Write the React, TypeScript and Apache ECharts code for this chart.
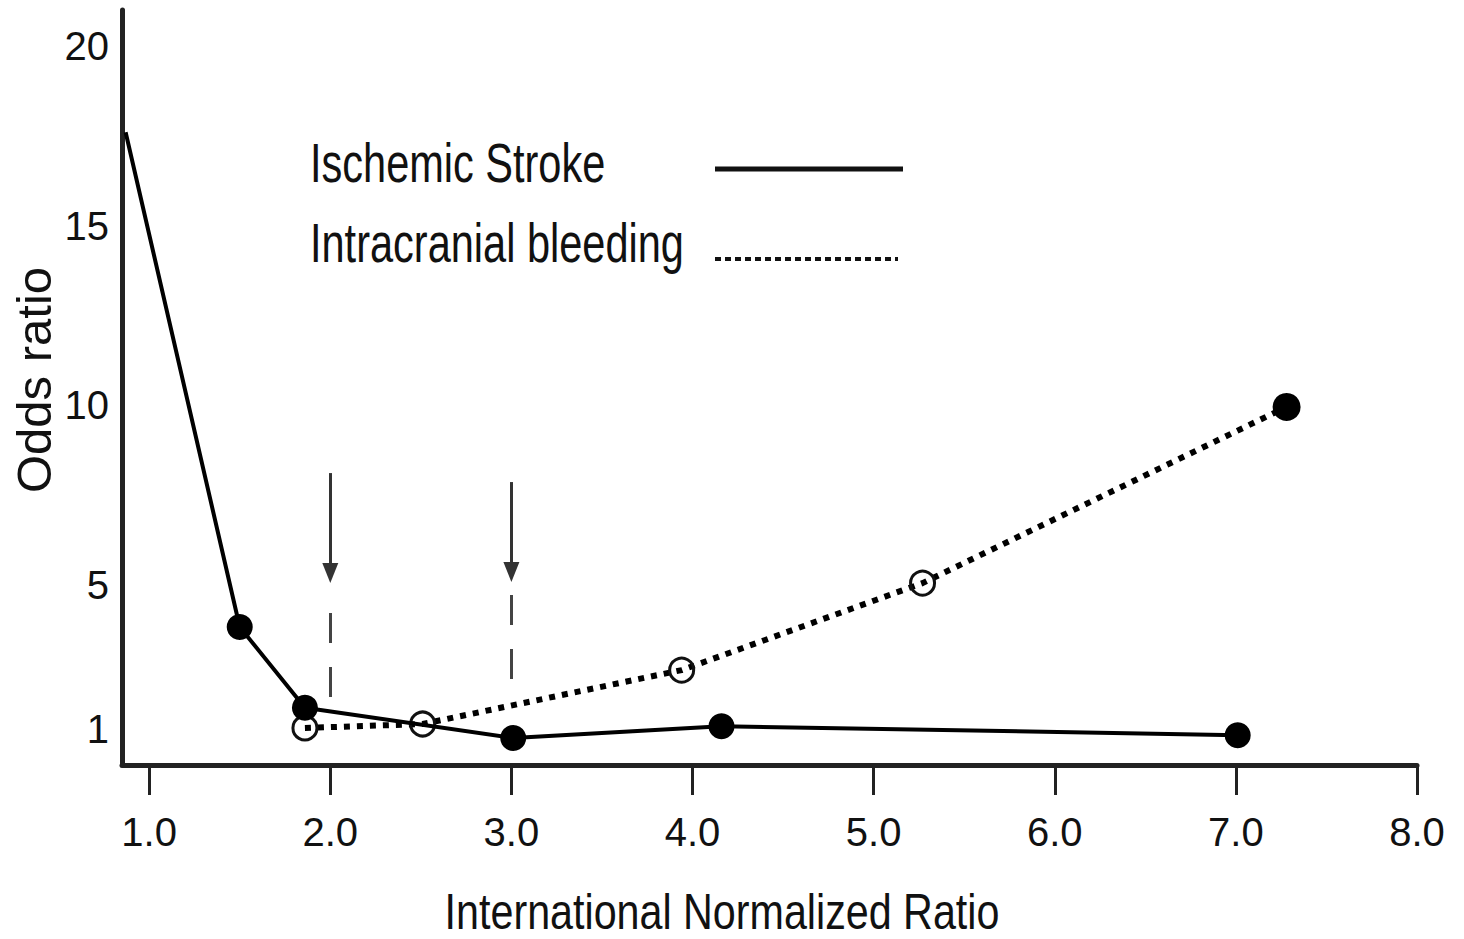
import React, { useEffect, useRef } from "react";
import * as echarts from "echarts";

// ---- data ----
const strokeINR = [0.87, 1.5, 1.86, 3.01, 4.16, 7.01];
const strokeOR = [17.6, 3.84, 1.59, 0.75, 1.08, 0.83];

const bleedINR = [1.86, 2.51, 3.94, 5.27, 7.28];
const bleedOR = [1.03, 1.14, 2.64, 5.06, 9.96];

const xTicks = [1, 2, 3, 4, 5, 6, 7, 8];
const yTicks = [1, 5, 10, 15, 20];

// target-range arrows (INR 2.0 and 3.0)
const arrowX = [2.0, 3.0];
const arrowTop = [8.12, 7.87];
const arrowHead = [5.34, 5.37];
const guideTop = [4.23, 4.73];
const guideBottom = [1.81, 1.89];

const seriesNames = ["Ischemic Stroke", "Intracranial bleeding"];
const xTitle = "International Normalized Ratio";
const yTitle = "Odds ratio";

const FONT = '"Liberation Sans", Arial, Helvetica, sans-serif';
const INK = "#111";

export default function App() {
  const ref = useRef<HTMLDivElement>(null);

  useEffect(() => {
    if (!ref.current) return;
    const chart = echarts.init(ref.current, undefined, { renderer: "svg" });

    const strokeData = strokeINR.map((x, i) =>
      i === 0 ? { value: [x, strokeOR[i]], symbol: "none" } : { value: [x, strokeOR[i]] }
    );
    const bleedData = bleedINR.map((x, i) =>
      i === bleedINR.length - 1
        ? {
            value: [x, bleedOR[i]],
            symbolSize: 28,
            itemStyle: { color: "#000", borderWidth: 0 },
          }
        : { value: [x, bleedOR[i]] }
    );

    const markData: any[] = [];
    arrowX.forEach((x, i) => {
      markData.push([
        {
          coord: [x, arrowTop[i]],
          symbol: "none",
          lineStyle: { type: "solid", width: 3, color: "#333" },
        },
        { coord: [x, arrowHead[i]], symbol: "triangle", symbolSize: [16, 20] },
      ]);
      markData.push([
        {
          coord: [x, guideTop[i]],
          symbol: "none",
          lineStyle: { type: [30, 24], width: 3, color: "#444" },
        },
        { coord: [x, guideBottom[i]], symbol: "none" },
      ]);
    });

    const condensed = (
      text: string,
      x: number,
      y: number,
      fontSize: number,
      scaleX: number,
      align: string,
      rotation = 0
    ) => ({
      type: "text",
      x,
      y,
      rotation,
      scaleX,
      style: {
        text,
        fontSize,
        fontFamily: FONT,
        fill: INK,
        align,
        verticalAlign: "middle",
      },
    });

    chart.setOption({
      animation: false,
      backgroundColor: "#fff",
      grid: { left: 122, right: 47, top: 10, bottom: 174, containLabel: false, outerBoundsMode: "none" },
      xAxis: {
        type: "value",
        min: 0.85,
        max: 8,
        axisLine: { show: true, onZero: false, lineStyle: { color: "#222", width: 5 } },
        axisTick: {
          show: true,
          inside: false,
          length: 30,
          customValues: xTicks,
          lineStyle: { color: "#222", width: 3 },
        },
        axisLabel: {
          customValues: xTicks,
          formatter: (v: number) => v.toFixed(1),
          margin: 47,
          fontSize: 40,
          fontFamily: FONT,
          color: INK,
        },
        splitLine: { show: false },
      },
      yAxis: {
        type: "value",
        min: 0,
        max: 21,
        axisLine: { show: true, onZero: false, lineStyle: { color: "#222", width: 5 } },
        axisTick: { show: false },
        axisLabel: {
          customValues: yTicks,
          formatter: (v: number) => String(v),
          margin: 13,
          fontSize: 40,
          fontFamily: FONT,
          color: INK,
        },
        splitLine: { show: false },
      },
      series: [
        {
          name: seriesNames[1],
          type: "line",
          data: bleedData,
          symbol: "circle",
          symbolSize: 24,
          showAllSymbol: true,
          lineStyle: { color: "#000", width: 6, type: [6, 7] },
          itemStyle: { color: "rgba(0,0,0,0)", borderColor: "#111", borderWidth: 3 },
          z: 2,
          markLine: {
            silent: true,
            symbol: ["none", "none"],
            label: { show: false },
            emphasis: { disabled: true },
            data: markData,
          },
        },
        {
          name: seriesNames[0],
          type: "line",
          data: strokeData,
          symbol: "circle",
          symbolSize: 26,
          showAllSymbol: true,
          lineStyle: { color: "#000", width: 4 },
          itemStyle: { color: "#000" },
          z: 3,
        },
      ],
      graphic: [
        condensed(yTitle, 34, 380, 49, 1, "center", Math.PI / 2),
        condensed(xTitle, 722, 912, 50, 0.825, "center"),
        condensed(seriesNames[0], 310, 163, 55, 0.755, "left"),
        condensed(seriesNames[1], 310, 243, 55, 0.755, "left"),
        {
          type: "line",
          shape: { x1: 715, y1: 169, x2: 903, y2: 169 },
          style: { stroke: "#111", lineWidth: 5 },
        },
        {
          type: "line",
          shape: { x1: 715, y1: 259, x2: 898, y2: 259 },
          style: { stroke: "#111", lineWidth: 4, lineDash: [6, 4] },
        },
      ],
    });

    return () => chart.dispose();
  }, []);

  return (
    <div
      ref={ref}
      style={{ position: "fixed", left: 0, top: 0, width: 1464, height: 939, background: "#fff" }}
    />
  );
}
